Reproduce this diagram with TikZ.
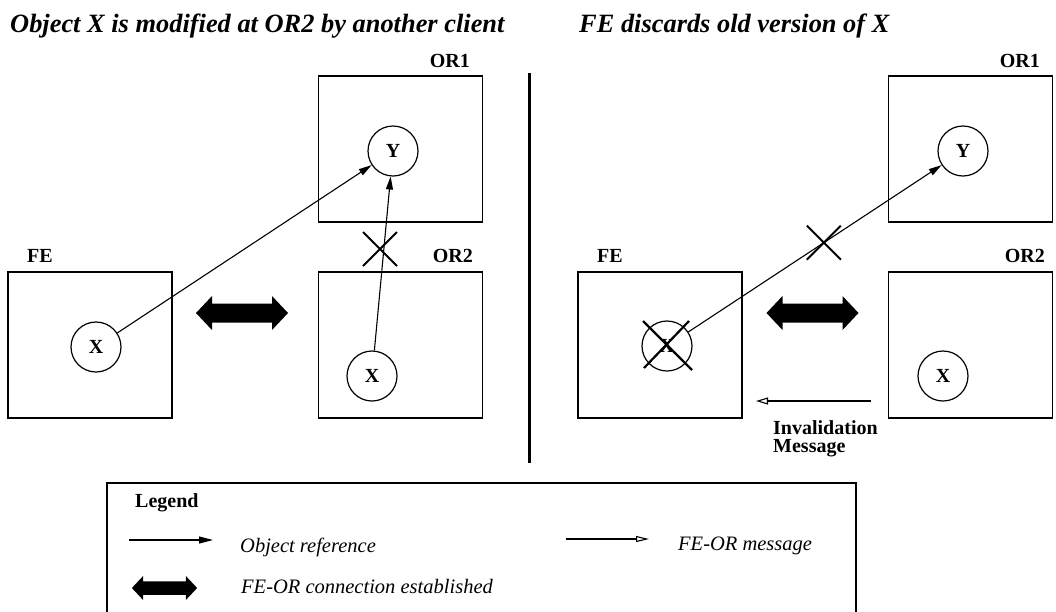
\documentclass[tikz,border=0pt]{standalone}
\usepackage{fontspec}
\setmainfont{Liberation Serif}
\usetikzlibrary{arrows.meta,calc}
\begin{document}
\begin{tikzpicture}[x=1pt,y=-1pt,
  box/.style={draw,line width=1.3pt,minimum width=164pt,minimum height=146pt,inner sep=0pt},
  obj/.style={draw,circle,line width=1.2pt,minimum size=50pt,inner sep=0pt,font=\fontsize{20}{22}\selectfont\bfseries},
  lbl/.style={inner sep=0pt,font=\fontsize{20}{24}\selectfont\bfseries},
  ttl/.style={inner sep=0pt,font=\fontsize{26.4}{30}\selectfont\bfseries\itshape},
  lgd/.style={inner sep=0pt,font=\fontsize{20.5}{24}\selectfont\itshape},
  ref/.style={line width=1.1pt,-{Triangle[length=13pt,width=7pt]}},
  msg/.style={line width=1.1pt,-{Triangle[open,length=12pt,width=7pt]}},
  xmark/.pic={\draw[line width=2pt] (-17,-17)--(17,17) (-17,17)--(17,-17);},
  dbl/.pic={\fill (-46,0)--(-30,-17)--(-30,-9.5)--(30,-9.5)--(30,-17)--(46,0)--(30,17)--(30,9.5)--(-30,9.5)--(-30,17)--cycle;}
]
\useasboundingbox (0,0) rectangle (1056,611);

% titles
\node[ttl,anchor=base west] (t1) at (10,32) {Object X is modified at OR2 by another client};
\node[ttl,anchor=base west] (t2) at (579,32) {FE discards old version of X};

% divider
\draw[line width=3pt] (529,73) -- (529,463);

% ---------- left panel ----------
\node[box] (feL) at (90,345) {};
\node[box] (or2L) at (400.5,345) {};
\node[box] (or1L) at (400.5,149) {};
\node[lbl,anchor=base west] (feLl) at (27,262) {FE};
\node[lbl,anchor=base east] (or2Ll) at (473,262) {OR2};
\node[lbl,anchor=base east] (or1Ll) at (470,67) {OR1};
\node[obj] (xL) at (96,347) {X};
\node[obj] (x2L) at (372,376) {X};
\node[obj] (yL) at (393,151) {Y};
\draw[ref] (xL) -- (yL);
\draw[ref] (x2L) -- (yL);
\pic at (380,249) {xmark};
\pic at (242,313) {dbl};

% ---------- right panel ----------
\node[box] (feR) at (660,345) {};
\node[box] (or2R) at (970.5,345) {};
\node[box] (or1R) at (970.5,149) {};
\node[lbl,anchor=base west] (feRl) at (597,262) {FE};
\node[lbl,anchor=base east] (or2Rl) at (1045,262) {OR2};
\node[lbl,anchor=base east] (or1Rl) at (1040,67) {OR1};
\node[obj] (xR) at (667,346) {X};
\node[obj] (x2R) at (943,376) {X};
\node[obj] (yR) at (963,151) {Y};
\draw[line width=2.2pt] ($(xR)+(-24,-25)$) -- ($(xR)+(25,24)$)
                        ($(xR)+(-23,22)$) -- ($(xR)+(22,-25)$);
\draw[ref] (xR) -- (yR);
\pic at ($(xR)!0.53!(yR)$) {xmark};
\pic at (812.5,313) {dbl};
\coordinate (invS) at (871,401);
\coordinate (invE) at (756,401);
\draw[msg] (invS) -- (invE);
\node[lbl,anchor=base west,align=left,font=\fontsize{20}{18}\selectfont\bfseries] (invL) at (773,452) {Invalidation\\Message};

% ---------- legend ----------
\draw[line width=1.3pt] (107,483) rectangle (856,614);
\node[lbl,anchor=base west] (lgT) at (135,507) {Legend};
\coordinate (l1a) at (129,540);
\coordinate (l1b) at (213,540);
\draw[ref,-{Triangle[length=14pt,width=7pt]}] (l1a) -- (l1b);
\node[lgd,anchor=base west] (l1t) at (240,552) {Object reference};
\coordinate (l2a) at (566,539);
\coordinate (l2b) at (649,539);
\draw[msg,-{Triangle[open,length=13pt,width=6pt]}] (l2a) -- (l2b);
\node[lgd,anchor=base west] (l2t) at (678,550) {FE-OR message};
\pic[scale=0.71] at (164.5,588) {dbl};
\node[lgd,anchor=base west] (l3t) at (241,593) {FE-OR connection established};
\end{tikzpicture}
\end{document}
